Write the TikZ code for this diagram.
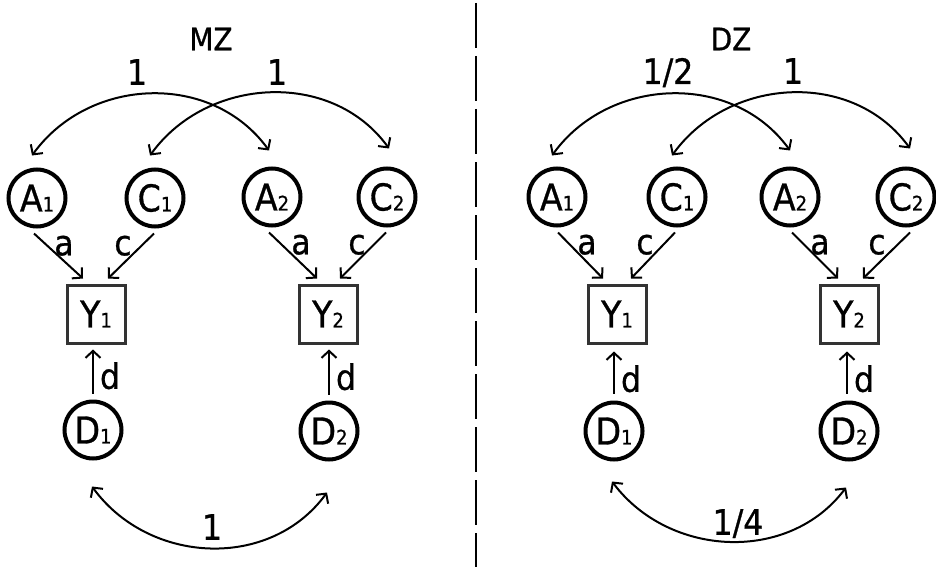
\documentclass[tikz,border=0pt]{standalone}
\usepackage{fontspec}
\setmainfont{DejaVu Sans Condensed}[FakeBold=0.8]
\usetikzlibrary{arrows.meta,calc}
\newcommand\nv[2]{#1{\fontsize{20}{20}\selectfont #2}}
\begin{document}
\begin{tikzpicture}[x=1pt,y=-1pt,
  lat/.style={circle,draw,line width=4pt,minimum size=57pt,inner sep=0pt,font=\fontsize{37}{37}\selectfont},
  obs/.style={rectangle,draw=black!80,line width=3pt,minimum size=58pt,inner sep=0pt,font=\fontsize{37}{37}\selectfont},
  pth/.style={line width=2pt,-{Straight Barb[length=7pt,width=15pt]}},
  cov/.style={line width=2pt,{Straight Barb[length=7pt,width=15pt]}-{Straight Barb[length=7pt,width=15pt]}},
  lbl/.style={font=\fontsize{35}{35}\selectfont,inner sep=0pt,text depth=0pt},
  ttl/.style={font=\fontsize{31}{31}\selectfont,inner sep=0pt,text depth=0pt}]
\useasboundingbox (0,0) rectangle (936,567);
% divider
\draw[line width=2.7pt,dash pattern=on 45pt off 8pt] (476,3) -- (476,567);
% ---------- MZ ----------
\node[ttl] (tMZ) at (211,39) {MZ};
\node[lat] (lA1) at (37,198) {\nv{A}{1}};
\node[lat] (lC1) at (155,198) {\nv{C}{1}};
\node[lat] (lA2) at (272,197) {\nv{A}{2}};
\node[lat] (lC2) at (387,197) {\nv{C}{2}};
\node[obs] (lY1) at (96,314) {\nv{Y}{1}};
\node[obs] (lY2) at (328,314) {\nv{Y}{2}};
\node[lat] (lD1) at (93,430) {\nv{D}{1}};
\node[lat] (lD2) at (329,431) {\nv{D}{2}};
\draw[cov] ($(lA1.north)+(-5,-12)$) .. controls +(57,-79) and +(-57,-79) .. ($(lA2.north)+(-3,-16)$);
\draw[cov] ($(lC1.north)+(-5,-12)$) .. controls +(57,-79) and +(-57,-79) .. ($(lC2.north)+(2,-18)$);
\node[lbl] (lr1) at (137,72) {1};
\node[lbl] (lr2) at (277,72) {1};
\draw[pth] ($(lA1.south)+(-3,5)$) -- ($(lY1.north)+(-13,-5)$);
\draw[pth] ($(lC1.south)+(-1,5)$) -- ($(lY1.north)+(12,-5)$);
\draw[pth] ($(lA2.south)+(-3,5)$) -- ($(lY2.north)+(-11,-5)$);
\draw[pth] ($(lC2.south)+(-1,5)$) -- ($(lY2.north)+(12,-5)$);
\node[lbl] (la1) at ($(lA1.south)+(27,17)$) {a};
\node[lbl] (lc1) at ($(lC1.south)+(-32,17)$) {c};
\node[lbl] (la2) at ($(lA2.south)+(29,17)$) {a};
\node[lbl] (lc2) at ($(lC2.south)+(-30,17)$) {c};
\draw[pth] ($(lD1.north)+(0,-6)$) -- ($(lD1.north|-lY1.south)+(0,5)$);
\draw[pth] ($(lD2.north)+(0,-6)$) -- ($(lD2.north|-lY2.south)+(0,5)$);
\node[lbl] (ld1) at ($(lD1.north)+(17,-24)$) {d};
\node[lbl] (ld2) at ($(lD2.north)+(17,-24)$) {d};
\draw[cov] ($(lD1.south)+(-1,26)$) .. controls +(57,78) and +(-57,78) .. ($(lD2.south)+(-2,31)$);
\node[lbl] (lre) at (212,527) {1};
% ---------- DZ ----------
\node[ttl] (tDZ) at (731,39) {DZ};
\node[lat] (rA1) at (557,197) {\nv{A}{1}};
\node[lat] (rC1) at (677,197) {\nv{C}{1}};
\node[lat] (rA2) at (790,197) {\nv{A}{2}};
\node[lat] (rC2) at (906,197) {\nv{C}{2}};
\node[obs] (rY1) at (617,314) {\nv{Y}{1}};
\node[obs] (rY2) at (849,314) {\nv{Y}{2}};
\node[lat] (rD1) at (614,431) {\nv{D}{1}};
\node[lat] (rD2) at (849,431) {\nv{D}{2}};
\draw[cov] ($(rA1.north)+(-5,-11)$) .. controls +(57,-79) and +(-57,-79) .. ($(rA2.north)+(0,-16)$);
\draw[cov] ($(rC1.north)+(-5,-11)$) .. controls +(57,-79) and +(-57,-79) .. ($(rC2.north)+(4,-18)$);
\node[lbl] (rr1) at (668,71) {1/2};
\node[lbl] (rr2) at (793,71) {1};
\draw[pth] ($(rA1.south)+(1,5)$) -- ($(rY1.north)+(-14,-5)$);
\draw[pth] ($(rC1.south)+(-2,5)$) -- ($(rY1.north)+(14,-5)$);
\draw[pth] ($(rA2.south)+(2,5)$) -- ($(rY2.north)+(-11,-5)$);
\draw[pth] ($(rC2.south)+(4,5)$) -- ($(rY2.north)+(14,-5)$);
\node[lbl] (ra1) at ($(rA1.south)+(30,17)$) {a};
\node[lbl] (rc1) at ($(rC1.south)+(-32,17)$) {c};
\node[lbl] (ra2) at ($(rA2.south)+(30,17)$) {a};
\node[lbl] (rc2) at ($(rC2.south)+(-29,17)$) {c};
\draw[pth] ($(rD1.north)+(0,-7)$) -- ($(rD1.north|-rY1.south)+(0,7)$);
\draw[pth] ($(rD2.north)+(-2,-7)$) -- ($(rD2.north|-rY2.south)+(-2,7)$);
\node[lbl] (rd1) at ($(rD1.north)+(17,-22)$) {d};
\node[lbl] (rd2) at ($(rD2.north)+(15,-22)$) {d};
\draw[cov] ($(rD1.south)+(-2,20)$) .. controls +(57,76) and +(-57,76) .. ($(rD2.south)+(-3,26)$);
\node[lbl] (rre) at (738,522) {1/4};
\end{tikzpicture}
\end{document}
